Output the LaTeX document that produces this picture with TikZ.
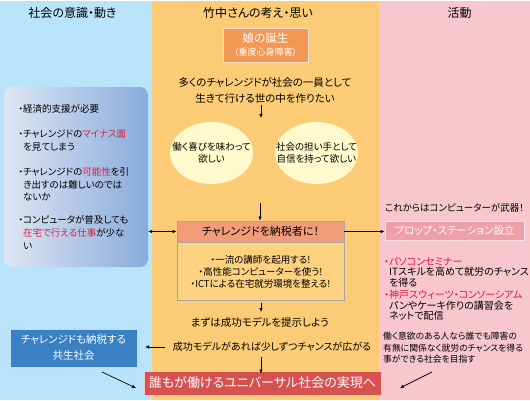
\documentclass[tikz,border=0pt]{standalone}
\usepackage{fontspec}
\setmainfont{Noto Sans CJK JP}[RawFeature={+palt}]
\usetikzlibrary{arrows.meta,shapes.geometric}
\definecolor{colB}{RGB}{185,227,248}
\definecolor{colO}{RGB}{251,204,117}
\definecolor{colP}{RGB}{247,198,206}
\definecolor{ellc}{RGB}{255,249,204}
\definecolor{birthc}{RGB}{241,152,84}
\definecolor{taxhc}{RGB}{242,155,120}
\definecolor{taxbc}{RGB}{252,210,128}
\definecolor{propc}{RGB}{238,160,170}
\definecolor{redc}{RGB}{214,82,80}
\definecolor{bluec}{RGB}{58,128,196}
\definecolor{gradL}{RGB}{222,230,244}
\definecolor{gradR}{RGB}{137,171,218}
\definecolor{hl}{RGB}{232,24,56}
\newcommand\fsz[2]{\fontsize{#1}{#2}\selectfont}
\begin{document}
\begin{tikzpicture}[x=1pt,y=-1pt,
  arr/.style={-{Latex[length=4pt,width=3.5pt]},line width=0.7pt},
  dbl/.style={{Latex[length=4pt,width=3.5pt]}-{Latex[length=4pt,width=3.5pt]},line width=0.7pt},
  hdr/.style={font=\fsz{12}{14},inner sep=0pt},
  txt/.style={align=center,inner sep=0pt},
  lt/.style={align=left,inner sep=0pt,anchor=west},
  ellnode/.style={ellipse,fill=ellc,minimum width=83,minimum height=62,inner sep=0pt},
  whitebox/.style={draw=white!70!#1,line width=1pt,fill=#1,text=white,align=center,inner sep=0pt}
]
\useasboundingbox (0,0) rectangle (530,400);
% columns
\fill[colB] (0,0) rectangle (152,400);
\fill[colO] (152,0) rectangle (379,400);
\fill[colP] (379,0) rectangle (530,400);
\fill[white] (0,0) rectangle (530,1.2);
% headers
\node[hdr] (hL) at (72.5,13) {社会の意識・動き};
\node[hdr] (hC) at (258,13) {竹中さんの考え・思い};
\node[hdr] (hR) at (459.5,13) {活動};
% left gradient box
\node[rounded corners=8pt,left color=gradL,right color=gradR,minimum width=144,minimum height=180,inner sep=0pt] (lbox) at (76,177) {};
\node[lt,font=\fsz{9.5}{13}] (l1) at (23,109) {\llap{・}経済的支援が必要};
\node[lt,font=\fsz{9.5}{13}] (l2) at (23,140.5) {\llap{・}チャレンジドの\textcolor{hl}{マイナス面}\\を見てしまう};
\node[lt,font=\fsz{9.5}{12.5}] (l3) at (23,184.5) {\llap{・}チャレンジドの\textcolor{hl}{可能性}を引\\き出すのは難しいのでは\\ないか};
\node[lt,font=\fsz{9.5}{13}] (l4) at (23,233) {\llap{・}コンピュータが普及しても\\\textcolor{hl}{在宅で行える仕事}が少な\\い};
% center
\node[whitebox=birthc,minimum width=85,minimum height=34] (birth) at (265.5,45) {\fsz{11.5}{13}娘の誕生\\[1pt]\fsz{9}{10}（重度心身障害）};
\node[txt,font=\fsz{10.5}{16}] (goal) at (265,90) {多くのチャレンジドが社会の一員として\\生きて行ける世の中を作りたい};
\coordinate (a1) at (261,118);
\draw[arr] (goal.south -| a1) ++(0,2) -- (a1);
\node[ellnode] (e1) at (211.5,153) {};
\node[ellnode] (e2) at (316.5,153) {};
\node[txt,font=\fsz{9.5}{12}] (e1t) at (e1.center) {働く喜びを味わって\\欲しい};
\node[txt,font=\fsz{9.5}{12}] (e2t) at (e2.center) {社会の担い手として\\自信を持って欲しい};
\coordinate (a2s) at (260,203);
\node[draw=black!35,line width=0.8pt,fill=taxhc,minimum width=167,minimum height=21,inner sep=0pt,font=\fsz{11}{12}] (taxh) at (260.5,231.5) {チャレンジドを納税者に！};
\node[draw=black!35,line width=0.8pt,fill=taxbc,minimum width=167,minimum height=58,inner sep=0pt,align=center,font=\fsz{9.5}{12},anchor=north] (taxb) at (taxh.south) {・一流の講師を起用する!\\・高性能コンピューターを使う!\\・ICTによる在宅就労環境を整える!};
\draw[arr] (a2s) -- (a2s |- taxh.north);
\coordinate (a3) at (261,312);
\draw[arr] (taxb.south -| a3) ++(0,2) -- (a3);
\node[txt,font=\fsz{10.5}{12}] (model) at (260,322) {まずは成功モデルを提示しよう};
\node[txt,font=\fsz{10}{12}] (chance) at (272,347) {成功モデルがあれば少しずつチャンスが広がる};
\coordinate (a4) at (145,347);
\draw[arr] ([xshift=-8pt]chance.west) -- (a4);
\node[whitebox=redc,minimum width=237,minimum height=24,font=\fsz{13}{15}] (univ) at (262.5,383) {誰もが働けるユニバーサル社会の実現へ};
\coordinate (a5) at (261,357);
\draw[arr] (a5) -- ([yshift=-3pt]a5 |- univ.north);
% left bottom
\node[whitebox=bluec,minimum width=127,minimum height=38,font=\fsz{10.5}{16}] (kyosei) at (73.5,348) {チャレンジドも納税する\\共生社会};
\coordinate (b1) at (102,372);
\coordinate (b2) at (136,388);
\draw[arr] (b1) -- (b2);
% right
\node[txt,font=\fsz{9.5}{12}] (weapon) at (454.5,208) {これからはコンピューターが武器！};
\node[whitebox=propc,minimum width=139,minimum height=19,font=\fsz{10.5}{12}] (prop) at (454.5,230.5) {プロップ・ステーション設立};
\node[lt,font=\fsz{10}{10.7}] (r1) at (389,272.3) {\llap{\textcolor{hl}{・}}\textcolor{hl}{パソコンセミナー}\\ITスキルを高めて就労のチャンス\\を得る};
\node[lt,font=\fsz{10}{10.5}] (r2) at (389,305.5) {\llap{\textcolor{hl}{・}}\textcolor{hl}{神戸スウィーツ・コンソーシアム}\\パンやケーキ作りの講習会を\\ネットで配信};
\node[lt,font=\fsz{8.8}{11.5}] (r3) at (383,347.7) {働く意欲のある人なら誰でも障害の\\有無に関係なく就労のチャンスを得る\\事ができる社会を目指す};
\coordinate (c1) at (432,372);
\coordinate (c2) at (400,388);
\draw[arr] (c1) -- (c2);
% cross-column connectors
\draw[dbl] (lbox.east |- taxh.west) -- (taxh.west);
\draw[arr] (taxh.east) -- (taxh.east -| prop.west);
\end{tikzpicture}
\end{document}
